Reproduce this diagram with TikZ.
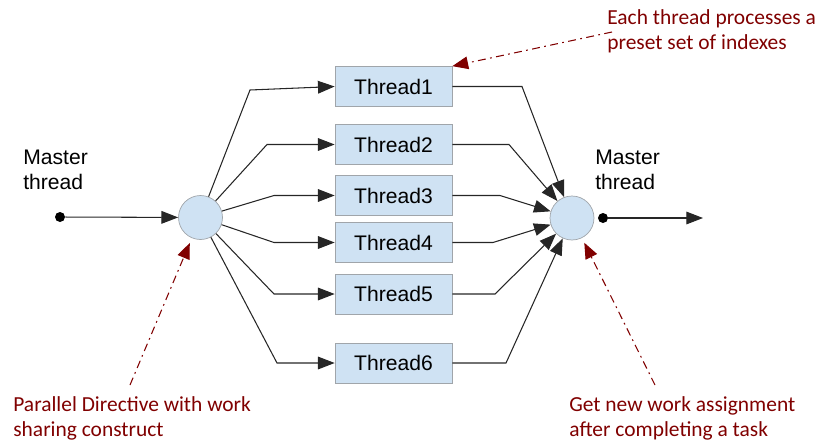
\documentclass[tikz,border=0pt]{standalone}
\usepackage{fontspec}
\setmainfont{Liberation Sans}
\newfontfamily\notefont{Carlito}
\usetikzlibrary{arrows.meta}
\definecolor{boxblue}{RGB}{207,226,243}
\definecolor{boxline}{RGB}{160,165,170}
\definecolor{notered}{RGB}{128,0,0}

\begin{document}
\begin{tikzpicture}[x=0.02cm, y=-0.02cm,
	thread/.style={draw=boxline, fill=boxblue, minimum width=2.34cm, minimum height=0.8cm, inner sep=0pt, font=\fontsize{12}{14}\selectfont},
	hub/.style={circle, draw=boxline, fill=boxblue, minimum size=0.88cm, inner sep=0pt},
	dot/.style={circle, fill=black, minimum size=0.2cm, inner sep=0pt},
	flow/.style={draw=black!85, line width=0.6pt, -{Triangle[length=9.5pt, width=7.2pt]}},
	mastertext/.style={align=left, anchor=north west, inner sep=0pt, font=\fontsize{12}{14.2}\selectfont},
	note/.style={mastertext, text=notered, font=\notefont\fontsize{12.2}{14.2}\selectfont},
	pointer/.style={draw=notered, line width=0.6pt, dash pattern=on 4.5pt off 2.5pt on 1pt off 2.5pt, -{Triangle[length=9pt, width=7.2pt]}}]
		\useasboundingbox (0,0) rectangle (818,443);
		\node [hub] (split) at (200.5,217.5) {};
		\node [hub] (merge) at (572,218) {};
		\node [thread] (t1) at (393.5,86.5) {Thread1};
		\node [thread] (t2) at (393.5,144.5) {Thread2};
		\node [thread] (t3) at (393.5,195.5) {Thread3};
		\node [thread] (t4) at (393.5,242.5) {Thread4};
		\node [thread] (t5) at (393.5,294) {Thread5};
		\node [thread] (t6) at (393.5,363) {Thread6};
		\node [dot] (src) at (60,217) {};
		\node [dot] (sink) at (603,218) {};
		\coordinate (out) at (703,218);
		\node [mastertext] (mleft) at (23,150) {Master\\thread};
		\node [mastertext] (mright) at (595,150) {Master\\thread};
		\draw [flow] (src) -- (split);
		\draw [flow] (sink) -- (out);
		\draw [flow] (split) -- (250,90) -- (t1.west);
		\draw [flow] (split) -- (267,144.5) -- (t2.west);
		\draw [flow] (split) -- (274,195.5) -- (t3.west);
		\draw [flow] (split) -- (274,242.5) -- (t4.west);
		\draw [flow] (split) -- (274,294) -- (t5.west);
		\draw [flow] (split) -- (277,363) -- (t6.west);
		\draw [flow] (t1.east) -- (522,86.5) -- (merge);
		\draw [flow] (t2.east) -- (509,144.5) -- (merge);
		\draw [flow] (t3.east) -- (500,195.5) -- (merge);
		\draw [flow] (t4.east) -- (493,242.5) -- (merge);
		\draw [flow] (t5.east) -- (495,294) -- (merge);
		\draw [flow] (t6.east) -- (506,363) -- (merge);
		\node [note] (n1) at (607,9) {Each thread processes a\\preset set of indexes};
		\node [note] (n2) at (13,396) {Parallel Directive with work\\sharing construct};
		\node [note] (n3) at (569,396) {Get new work assignment\\after completing a task};
		\coordinate (n1tail) at (612,32);
		\coordinate (n2tail) at (130,385);
		\coordinate (n3tail) at (655,385);
		\draw [pointer] (n1tail) -- (t1.north east);
		\draw [pointer, shorten >=3pt] (n2tail) -- (split);
		\draw [pointer, shorten >=3pt] (n3tail) -- (merge);
\end{tikzpicture}
\end{document}
